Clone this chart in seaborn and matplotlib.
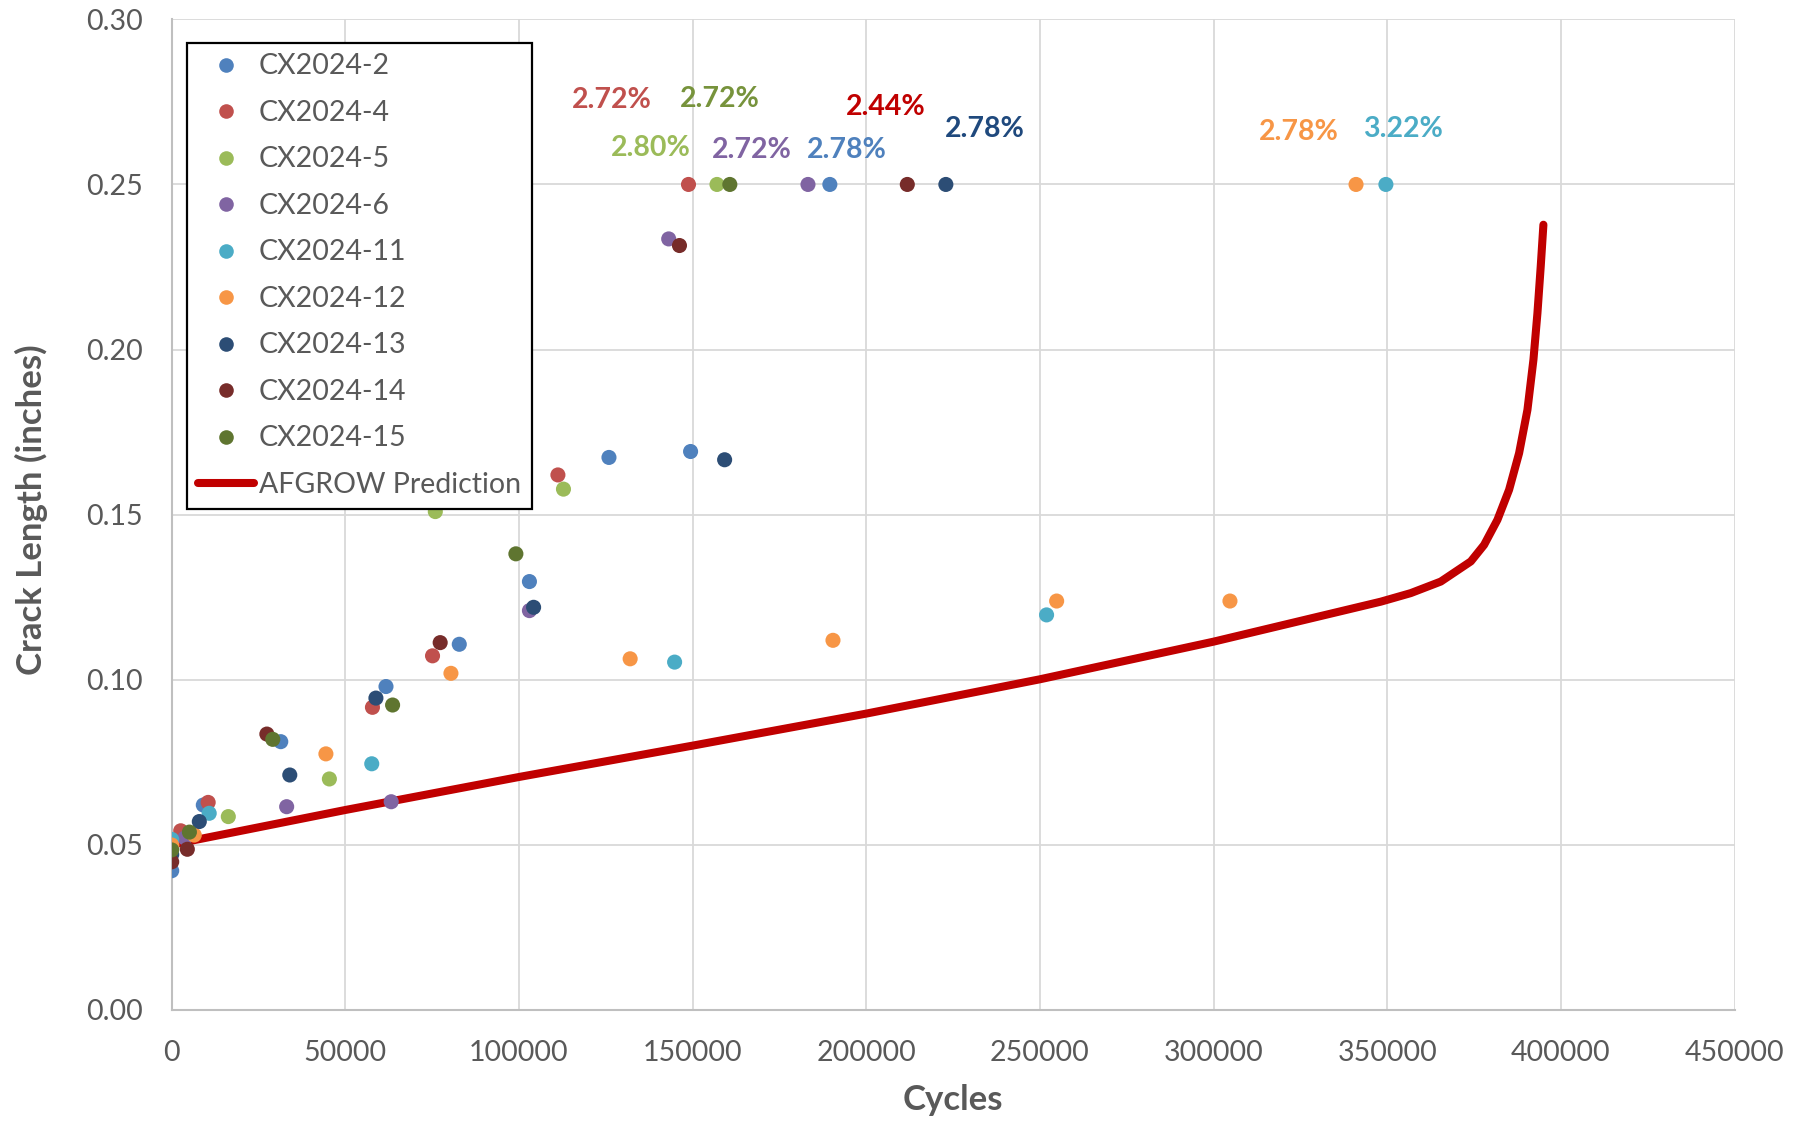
import numpy as np
import pandas as pd
import matplotlib
matplotlib.use("Agg")
import matplotlib.pyplot as plt
from matplotlib.lines import Line2D
import seaborn as sns

# ---- measured crack growth per specimen (cycles, crack length in inches) ----
cx2_cycles = [0, 9100, 31400, 61700, 82800, 103000, 125900, 149400, 189500]
cx2_len = [0.0421, 0.0620, 0.0812, 0.0979, 0.1107, 0.1297, 0.1673, 0.1691, 0.25]

cx4_cycles = [0, 2600, 10500, 57800, 75100, 111200, 148800]
cx4_len = [0.0500, 0.0542, 0.0628, 0.0916, 0.1072, 0.1620, 0.25]

cx5_cycles = [0, 16300, 45400, 75900, 112800, 157000]
cx5_len = [0.0490, 0.0585, 0.0699, 0.1509, 0.1577, 0.25]

cx6_cycles = [0, 3800, 33100, 63200, 103000, 143100, 183200]
cx6_len = [0.0495, 0.0520, 0.0615, 0.0630, 0.1209, 0.2335, 0.25]

cx11_cycles = [0, 10800, 57600, 144800, 251900, 349600]
cx11_len = [0.0516, 0.0595, 0.0745, 0.1053, 0.1196, 0.25]

cx12_cycles = [0, 6500, 44400, 80400, 132000, 190400, 254800, 304700, 341000]
cx12_len = [0.0499, 0.0529, 0.0775, 0.1019, 0.1063, 0.1119, 0.1238, 0.1238, 0.25]

cx13_cycles = [0, 7950, 34000, 58800, 104200, 159200, 222900]
cx13_len = [0.0470, 0.0570, 0.0711, 0.0944, 0.1219, 0.1666, 0.25]

cx14_cycles = [0, 4500, 27400, 77300, 146200, 211800]
cx14_len = [0.0448, 0.0486, 0.0835, 0.1112, 0.2315, 0.25]

cx15_cycles = [0, 5100, 29100, 63600, 99100, 160700]
cx15_len = [0.0484, 0.0538, 0.0819, 0.0923, 0.1381, 0.25]

# ---- AFGROW prediction curve ----
afgrow_cycles = [0, 50000, 100000, 150000, 200000, 250000, 300000, 348100,
                 356750, 365400, 374050, 377870, 381710, 385070, 387950,
                 390350, 392080, 393230, 394180, 394950]
afgrow_len = [0.0500, 0.0605, 0.0705, 0.0800, 0.0897, 0.1001, 0.1115, 0.1236,
              0.1262, 0.1297, 0.1358, 0.1408, 0.1484, 0.1575, 0.1686,
              0.1817, 0.1969, 0.2110, 0.2252, 0.2378]

# ---- failure strain annotations ----
ann_text = ["2.72%", "2.72%", "2.80%", "2.72%", "2.78%", "2.44%", "2.78%", "2.78%", "3.22%"]
ann_x = [126760, 157680, 138000, 167100, 194470, 205500, 234020, 324580, 354660]
ann_y = [0.2757, 0.2759, 0.2610, 0.2603, 0.2605, 0.2736, 0.2668, 0.2658, 0.2668]
ann_color = ["#C0504D", "#77933C", "#9BBB59", "#8064A2", "#4F81BD",
             "#C00000", "#1F497D", "#F79646", "#4BACC6"]

specimens = ["CX2024-2", "CX2024-4", "CX2024-5", "CX2024-6", "CX2024-11",
             "CX2024-12", "CX2024-13", "CX2024-14", "CX2024-15"]
spec_colors = ["#4F81BD", "#C0504D", "#9BBB59", "#8064A2", "#4BACC6",
               "#F79646", "#2C4D75", "#772C2A", "#5F7530"]
spec_cycles = [cx2_cycles, cx4_cycles, cx5_cycles, cx6_cycles, cx11_cycles,
               cx12_cycles, cx13_cycles, cx14_cycles, cx15_cycles]
spec_len = [cx2_len, cx4_len, cx5_len, cx6_len, cx11_len,
            cx12_len, cx13_len, cx14_len, cx15_len]

frames = []
for name, cyc, ln in zip(specimens, spec_cycles, spec_len):
    frames.append(pd.DataFrame({"Specimen": name, "Cycles": cyc, "Crack": ln}))
df = pd.concat(frames, ignore_index=True)
afgrow = pd.DataFrame({"Cycles": afgrow_cycles, "Crack": afgrow_len})

sns.set_theme(style="white")
plt.rcParams["font.family"] = ["Lato", "DejaVu Sans"]

W, H = 1793, 1121
fig = plt.figure(figsize=(W / 100, H / 100), dpi=100)
ax = fig.add_axes([171.7 / W, 1 - 1009.7 / H, (1734.6 - 171.7) / W, (1009.7 - 19.4) / H])

grey_txt = "#595959"
line_red = "#C00000"

sns.lineplot(data=afgrow, x="Cycles", y="Crack", ax=ax, color=line_red,
             linewidth=5.8, sort=False, estimator=None, zorder=2,
             solid_capstyle="round")
sns.scatterplot(data=df, x="Cycles", y="Crack", hue="Specimen",
                hue_order=specimens, palette=spec_colors, s=118,
                linewidth=0, ax=ax, legend=False, zorder=3)

for t, x, y, c in zip(ann_text, ann_x, ann_y, ann_color):
    ax.text(x, y, t, color=c, fontsize=20.5, fontweight="bold",
            ha="center", va="center", zorder=4)

ax.set_xlim(0, 450000)
ax.set_ylim(0, 0.30)
ax.set_xticks(np.arange(0, 450001, 50000))
ax.set_yticks(np.arange(0, 0.3001, 0.05))
ax.set_xticklabels([f"{int(v)}" for v in np.arange(0, 450001, 50000)])
ax.set_yticklabels([f"{v:.2f}" for v in np.arange(0, 0.3001, 0.05)])
ax.tick_params(axis="both", length=0, labelsize=20.5, colors=grey_txt)
ax.tick_params(axis="y", pad=21)
ax.tick_params(axis="x", pad=22)

ax.grid(True, color="#D9D9D9", linewidth=1.3, zorder=0)
ax.set_axisbelow(True)
for side in ["top", "right"]:
    ax.spines[side].set_visible(False)
for side in ["left", "bottom"]:
    ax.spines[side].set_color("#BFBFBF")
    ax.spines[side].set_linewidth(1.5)

ax.set_xlabel("Cycles", fontsize=25, fontweight="bold", color=grey_txt, va="center")
ax.set_ylabel("Crack Length (inches)", fontsize=25, fontweight="bold", color=grey_txt, va="center")
ax.xaxis.set_label_coords(0.5, -0.0912)
ax.yaxis.set_label_coords(-0.090, 0.505)

handles = [Line2D([], [], linestyle="none", marker="o", markersize=10.5,
                  markerfacecolor=c, markeredgewidth=0) for c in spec_colors]
handles.append(Line2D([], [], color=line_red, linewidth=5.8, solid_capstyle="round"))
labels = specimens + ["AFGROW Prediction"]
leg = ax.legend(handles, labels, loc="upper left",
                bbox_to_anchor=(0.0096, 0.9765), fontsize=20.5,
                frameon=True, fancybox=False, framealpha=1,
                edgecolor="black", borderpad=0.38, labelspacing=0.72,
                handlelength=2.0, handletextpad=0.15, borderaxespad=0)
leg.get_frame().set_linewidth(1.6)
for txt in leg.get_texts():
    txt.set_color(grey_txt)
leg.set_zorder(5)

fig.savefig("out.png", dpi=100)
